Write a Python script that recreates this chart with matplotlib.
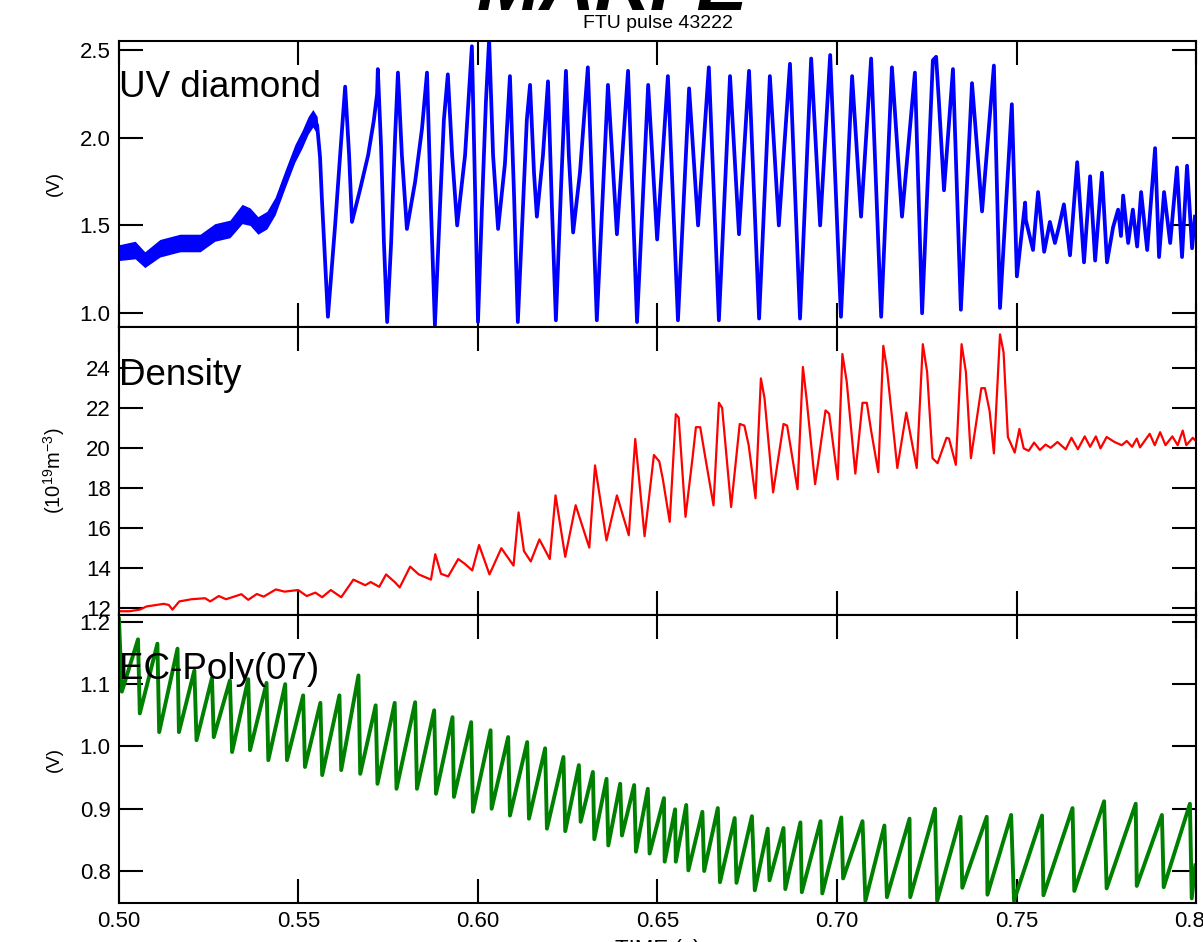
import numpy as np
import matplotlib
matplotlib.use("Agg")
import matplotlib.pyplot as plt

plt.rcParams['font.family'] = ['Liberation Sans', 'DejaVu Sans']
plt.rcParams['mathtext.fontset'] = 'custom'
plt.rcParams['mathtext.rm'] = 'Liberation Sans'
plt.rcParams['mathtext.it'] = 'Liberation Sans:italic'

# ---- UV diamond (V): noisy early band, then the trace
uv_band_t = [0.5000, 0.5045, 0.5072, 0.5114, 0.5170, 0.5226, 0.5267, 0.5309, 0.5343, 0.5365,
             0.5387, 0.5412, 0.5435, 0.5462, 0.5490, 0.5510, 0.5527, 0.5540, 0.5552, 0.5560]
uv_band_hi = [1.39, 1.41, 1.35, 1.42, 1.45, 1.45, 1.51, 1.53, 1.62, 1.60,
              1.55, 1.58, 1.66, 1.81, 1.96, 2.04, 2.12, 2.16, 2.12, 1.92]
uv_band_lo = [1.30, 1.31, 1.26, 1.32, 1.35, 1.35, 1.41, 1.43, 1.51, 1.50,
              1.45, 1.48, 1.56, 1.71, 1.86, 1.94, 2.02, 2.06, 2.02, 1.86]

uv_t = [0.5000, 0.5045, 0.5072, 0.5114, 0.5170, 0.5226, 0.5267, 0.5309, 0.5343, 0.5365,
        0.5387, 0.5412, 0.5435, 0.5462, 0.5490, 0.5510, 0.5527, 0.5540, 0.5552, 0.5560,
        0.5565, 0.5582, 0.5602, 0.5616, 0.5630, 0.5641, 0.5649, 0.5671, 0.5694, 0.5710,
        0.5719, 0.5721, 0.5730, 0.5738, 0.5747, 0.5758, 0.5769, 0.5777, 0.5788, 0.5802,
        0.5825, 0.5844, 0.5858, 0.5869, 0.5880, 0.5894, 0.5905, 0.5916, 0.5928, 0.5942,
        0.5964, 0.5983, 0.5992, 0.6000, 0.6011, 0.6022, 0.6031, 0.6042, 0.6056, 0.6075,
        0.6089, 0.6100, 0.6111, 0.6125, 0.6136, 0.6145, 0.6156, 0.6164, 0.6181, 0.6195,
        0.6206, 0.6217, 0.6231, 0.6245, 0.6253, 0.6265, 0.6284, 0.6306, 0.6331, 0.6362,
        0.6387, 0.6418, 0.6443, 0.6474, 0.6499, 0.6529, 0.6557, 0.6588, 0.6613, 0.6643,
        0.6671, 0.6702, 0.6727, 0.6755, 0.6783, 0.6813, 0.6838, 0.6869, 0.6897, 0.6928,
        0.6953, 0.6981, 0.7011, 0.7042, 0.7067, 0.7095, 0.7123, 0.7153, 0.7181, 0.7217,
        0.7237, 0.7267, 0.7276, 0.7284, 0.7298, 0.7323, 0.7345, 0.7376, 0.7404, 0.7437,
        0.7454, 0.7487, 0.7501, 0.7524, 0.7526, 0.7546, 0.7560, 0.7577, 0.7593, 0.7607,
        0.7618, 0.7632, 0.7649, 0.7669, 0.7688, 0.7705, 0.7719, 0.7738, 0.7752, 0.7769,
        0.7783, 0.7791, 0.7797, 0.7811, 0.7824, 0.7836, 0.7847, 0.7864, 0.7886, 0.7897,
        0.7911, 0.7928, 0.7947, 0.7961, 0.7975, 0.7989, 0.7997]
uv_v = [1.34, 1.36, 1.30, 1.37, 1.40, 1.40, 1.46, 1.48, 1.565, 1.55,
        1.50, 1.53, 1.61, 1.76, 1.91, 1.99, 2.07, 2.11, 2.07, 1.89,
        1.66, 0.98, 1.50, 1.90, 2.29, 1.90, 1.52, 1.70, 1.90, 2.10,
        2.25, 2.39, 1.95, 1.40, 0.95, 1.40, 2.00, 2.37, 1.90, 1.48,
        1.75, 2.05, 2.37, 1.60, 0.93, 1.60, 2.10, 2.36, 1.90, 1.50,
        1.90, 2.52, 1.70, 0.95, 1.60, 2.20, 2.56, 1.90, 1.48, 1.85,
        2.35, 1.70, 0.95, 1.60, 2.10, 2.30, 1.80, 1.55, 1.90, 2.32,
        1.60, 0.96, 1.70, 2.38, 1.90, 1.46, 1.80, 2.40, 0.96, 2.30,
        1.45, 2.38, 0.95, 2.30, 1.42, 2.35, 0.96, 2.28, 1.50, 2.40,
        0.96, 2.35, 1.45, 2.38, 0.97, 2.35, 1.50, 2.42, 0.97, 2.45,
        1.50, 2.47, 0.98, 2.35, 1.55, 2.45, 0.98, 2.40, 1.55, 2.37,
        1.00, 2.44, 2.46, 2.20, 1.70, 2.39, 1.02, 2.31, 1.58, 2.41,
        1.03, 2.19, 1.21, 1.63, 1.53, 1.36, 1.69, 1.35, 1.52, 1.40,
        1.49, 1.62, 1.33, 1.86, 1.29, 1.78, 1.30, 1.80, 1.29, 1.49,
        1.59, 1.44, 1.67, 1.40, 1.59, 1.38, 1.69, 1.36, 1.94, 1.32,
        1.69, 1.40, 1.83, 1.32, 1.84, 1.37, 1.55]

# ---- Density (1e19 m^-3)
ne_t = [0.5000, 0.5029, 0.5058, 0.5077, 0.5125, 0.5139, 0.5149, 0.5168, 0.5202, 0.5240,
        0.5254, 0.5278, 0.5298, 0.5341, 0.5360, 0.5384, 0.5403, 0.5437, 0.5461, 0.5499,
        0.5523, 0.5547, 0.5566, 0.5590, 0.5619, 0.5653, 0.5686, 0.5701, 0.5725, 0.5744,
        0.5768, 0.5782, 0.5811, 0.5835, 0.5869, 0.5881, 0.5897, 0.5917, 0.5945, 0.5964,
        0.5984, 0.6003, 0.6032, 0.6065, 0.6099, 0.6113, 0.6128, 0.6147, 0.6171, 0.6200,
        0.6216, 0.6243, 0.6272, 0.6310, 0.6326, 0.6358, 0.6387, 0.6420, 0.6438, 0.6464,
        0.6490, 0.6505, 0.6515, 0.6534, 0.6551, 0.6559, 0.6578, 0.6598, 0.6607, 0.6619,
        0.6632, 0.6656, 0.6671, 0.6680, 0.6705, 0.6729, 0.6742, 0.6754, 0.6773, 0.6788,
        0.6798, 0.6822, 0.6851, 0.6861, 0.6890, 0.6905, 0.6915, 0.6939, 0.6968, 0.6978,
        0.7002, 0.7015, 0.7027, 0.7051, 0.7071, 0.7083, 0.7095, 0.7115, 0.7129, 0.7139,
        0.7168, 0.7193, 0.7222, 0.7239, 0.7251, 0.7266, 0.7280, 0.7305, 0.7312, 0.7331,
        0.7347, 0.7359, 0.7373, 0.7402, 0.7412, 0.7425, 0.7437, 0.7454, 0.7464, 0.7476,
        0.7495, 0.7508, 0.7520, 0.7534, 0.7549, 0.7565, 0.7581, 0.7595, 0.7614, 0.7637,
        0.7653, 0.7671, 0.7690, 0.7705, 0.7721, 0.7734, 0.7751, 0.7773, 0.7793, 0.7807,
        0.7822, 0.7835, 0.7844, 0.7871, 0.7885, 0.7900, 0.7915, 0.7934, 0.7949, 0.7963,
        0.7973, 0.7991, 0.7998]
ne_v = [11.84, 11.84, 11.92, 12.08, 12.21, 12.15, 11.92, 12.33, 12.44, 12.49,
        12.33, 12.60, 12.44, 12.69, 12.41, 12.70, 12.57, 12.93, 12.82, 12.90,
        12.60, 12.77, 12.54, 12.90, 12.54, 13.42, 13.14, 13.30, 13.06, 13.68,
        13.30, 13.03, 14.07, 13.68, 13.42, 14.69, 13.71, 13.58, 14.45, 14.20,
        13.88, 15.15, 13.68, 14.99, 14.12, 16.78, 14.85, 14.33, 15.43, 14.45,
        17.63, 14.56, 17.14, 15.02, 19.13, 15.38, 17.63, 15.64, 20.45, 15.59,
        19.65, 19.33, 18.43, 16.31, 21.69, 21.52, 16.56, 19.57, 21.04, 21.04,
        19.65, 17.13, 22.26, 22.01, 17.05, 21.20, 21.12, 20.14, 17.49, 23.48,
        22.50, 17.78, 21.20, 21.12, 17.94, 24.05, 22.50, 18.19, 21.88, 21.72,
        18.43, 24.70, 23.32, 18.72, 22.26, 22.26, 20.87, 18.79, 25.11, 23.97,
        19.00, 21.77, 19.00, 25.19, 23.80, 19.49, 19.24, 20.51, 20.47, 19.16,
        25.19, 23.80, 19.49, 22.99, 22.99, 21.85, 19.73, 25.68, 24.78, 20.55,
        19.77, 20.95, 19.98, 19.86, 20.27, 19.90, 20.17, 20.01, 20.30, 19.93,
        20.51, 19.94, 20.58, 20.06, 20.58, 19.98, 20.55, 20.30, 20.14, 20.35,
        20.06, 20.47, 20.03, 20.71, 20.14, 20.79, 20.14, 20.58, 20.14, 20.87,
        20.14, 20.51, 20.38]

# ---- EC-Poly(07) (V): sawtooth, peak then drop
ec_t = [0.5000, 0.5008, 0.5053, 0.5058, 0.5107, 0.5112, 0.5163, 0.5167, 0.5210, 0.5216,
        0.5259, 0.5264, 0.5309, 0.5315, 0.5360, 0.5365, 0.5411, 0.5416, 0.5463, 0.5468,
        0.5513, 0.5518, 0.5561, 0.5566, 0.5614, 0.5619, 0.5667, 0.5672, 0.5715, 0.5720,
        0.5768, 0.5773, 0.5825, 0.5830, 0.5878, 0.5883, 0.5929, 0.5933, 0.5981, 0.5986,
        0.6035, 0.6038, 0.6084, 0.6089, 0.6137, 0.6142, 0.6187, 0.6192, 0.6238, 0.6243,
        0.6281, 0.6286, 0.6320, 0.6324, 0.6358, 0.6363, 0.6396, 0.6401, 0.6435, 0.6440,
        0.6473, 0.6478, 0.6518, 0.6520, 0.6549, 0.6551, 0.6580, 0.6586, 0.6625, 0.6630,
        0.6668, 0.6674, 0.6715, 0.6720, 0.6763, 0.6771, 0.6807, 0.6812, 0.6851, 0.6856,
        0.6898, 0.6902, 0.6954, 0.6959, 0.7012, 0.7017, 0.7071, 0.7079, 0.7132, 0.7139,
        0.7202, 0.7204, 0.7273, 0.7279, 0.7344, 0.7349, 0.7417, 0.7419, 0.7485, 0.7493,
        0.7571, 0.7575, 0.7656, 0.7661, 0.7744, 0.7751, 0.7832, 0.7835, 0.7905, 0.7910,
        0.7983, 0.7988, 0.7998]
ec_v = [1.205, 1.088, 1.172, 1.053, 1.165, 1.023, 1.157, 1.023, 1.122, 1.010,
        1.110, 1.015, 1.106, 0.991, 1.108, 0.994, 1.102, 0.978, 1.100, 0.978,
        1.082, 0.967, 1.070, 0.954, 1.082, 0.962, 1.114, 0.956, 1.066, 0.940,
        1.070, 0.932, 1.071, 0.932, 1.058, 0.924, 1.047, 0.919, 1.039, 0.895,
        1.026, 0.900, 1.015, 0.889, 1.007, 0.884, 0.997, 0.868, 0.983, 0.864,
        0.970, 0.879, 0.959, 0.851, 0.948, 0.841, 0.940, 0.857, 0.938, 0.831,
        0.932, 0.828, 0.917, 0.815, 0.899, 0.815, 0.906, 0.801, 0.895, 0.800,
        0.901, 0.782, 0.885, 0.781, 0.888, 0.769, 0.868, 0.785, 0.869, 0.771,
        0.878, 0.766, 0.880, 0.764, 0.886, 0.788, 0.880, 0.752, 0.873, 0.758,
        0.884, 0.758, 0.900, 0.752, 0.887, 0.773, 0.887, 0.762, 0.890, 0.752,
        0.889, 0.761, 0.901, 0.768, 0.912, 0.772, 0.908, 0.776, 0.890, 0.774,
        0.908, 0.756, 0.809]

x_ticks = [0.50, 0.55, 0.60, 0.65, 0.70, 0.75, 0.80]

fig = plt.figure(figsize=(12.03, 9.42), dpi=100)
left, width = 0.0989, 0.8953
ax_uv = fig.add_axes([left, 0.6529, width, 0.3036])
ax_ne = fig.add_axes([left, 0.3471, width, 0.3058])
ax_ec = fig.add_axes([left, 0.0414, width, 0.3057])


def style(ax, ylim, yticks, fmt):
    ax.set_xlim(0.5, 0.8)
    ax.set_ylim(*ylim)
    ax.set_xticks(x_ticks)
    ax.set_yticks(yticks)
    ax.set_yticklabels([fmt % v for v in yticks])
    ax.tick_params(direction='in', length=17, width=1.5, top=True, right=True,
                   labelsize=16, pad=6)
    for s in ax.spines.values():
        s.set_linewidth(1.5)


ax_uv.fill_between(uv_band_t, uv_band_lo, uv_band_hi, color='blue', lw=0)
ax_uv.plot(uv_t, uv_v, color='blue', lw=2.7)
style(ax_uv, (0.922, 2.55), [1.0, 1.5, 2.0, 2.5], '%.1f')
ax_uv.tick_params(labelbottom=False)
ax_uv.set_ylabel('(V)', fontsize=13.5)
ax_uv.yaxis.set_label_coords(-0.052, 0.5)
ax_uv.text(0.0, 0.804, 'UV diamond', transform=ax_uv.transAxes, fontsize=26.5,
           ha='left', va='baseline')

ax_ne.plot(ne_t, ne_v, color='red', lw=1.6)
style(ax_ne, (11.65, 26.05), [12, 14, 16, 18, 20, 22, 24], '%d')
ax_ne.tick_params(labelbottom=False)
ax_ne.set_ylabel(r'(10$^{19}$m$^{-3}$)', fontsize=14.5)
ax_ne.yaxis.set_label_coords(-0.048, 0.5)
ax_ne.text(0.0, 0.799, 'Density', transform=ax_ne.transAxes, fontsize=26.5,
           ha='left', va='baseline')

ax_ec.plot(ec_t, ec_v, color='green', lw=2.8)
style(ax_ec, (0.7486, 1.211), [0.8, 0.9, 1.0, 1.1, 1.2], '%.1f')
ax_ec.set_xticklabels(['%.2f' % v for v in x_ticks])
ax_ec.set_ylabel('(V)', fontsize=13.5)
ax_ec.yaxis.set_label_coords(-0.052, 0.5)
ax_ec.text(0.0, 0.778, 'EC-Poly(07)', transform=ax_ec.transAxes, fontsize=26.5,
           ha='left', va='baseline')

for ax in (ax_uv, ax_ne, ax_ec):
    for lab in ax.get_yticklabels() + ax.get_xticklabels():
        lab.set_clip_on(False)

fig.text(0.509, 0.989, 'MARFE', ha='center', va='baseline', fontsize=55,
         fontstyle='italic', fontweight='bold')
fig.text(0.5465, 0.970, 'FTU pulse 43222', ha='center', va='baseline', fontsize=14)
fig.text(0.5465, 0.003, 'TIME (s)', ha='center', va='top', fontsize=16)

fig.savefig('out.png', dpi=100)
